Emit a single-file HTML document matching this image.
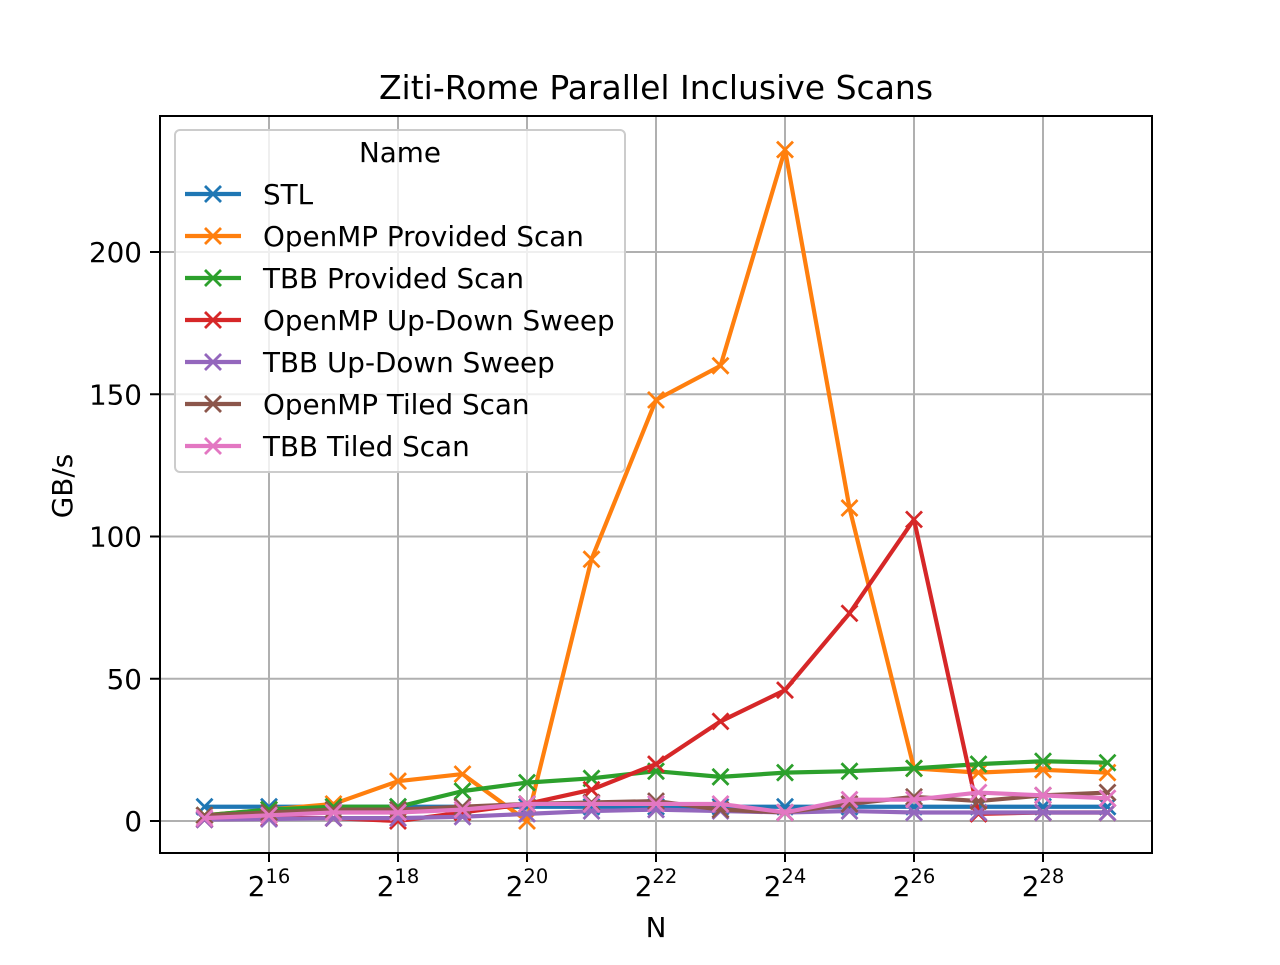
<!DOCTYPE html>
<html><head><meta charset="utf-8"><style>body{margin:0;background:#fff}svg{font-family:"DejaVu Sans","Liberation Sans",sans-serif}</style></head>
<body>
<svg id="chart" width="1280" height="960">
<rect width="1280" height="960" fill="#fff"/>
<g id="grid"></g><g id="series"></g>
<rect x="160" y="116" width="992" height="737" fill="none" stroke="#000" stroke-width="2"/>
<g id="ticks"></g>
<text x="656" y="99" font-size="33" text-anchor="middle">Ziti-Rome Parallel Inclusive Scans</text>
<text x="656" y="937" font-size="27.8" text-anchor="middle">N</text>
<text x="72" y="486" font-size="27.8" text-anchor="middle" transform="rotate(-90 72 486)">GB/s</text>
<g id="legend"></g>
</svg>
<script>
const exps=[15,16,17,18,19,20,21,22,23,24,25,26,27,28,29];
const names=["STL","OpenMP Provided Scan","TBB Provided Scan","OpenMP Up-Down Sweep","TBB Up-Down Sweep","OpenMP Tiled Scan","TBB Tiled Scan"];
const colors=["#1f77b4","#ff7f0e","#2ca02c","#d62728","#9467bd","#8c564b","#e377c2"];
const stl=[5,5,5,5,5,5,5,5,5,5,5,5,5,5,5];
const ompProvided=[2,4,6,14,16.5,0,92,148,160,236,110,18.5,17,18,17];
const tbbProvided=[2,4,5,5,10.5,13.5,15,17.5,15.5,17,17.5,18.5,20,21,20.5];
const ompUpDown=[0.5,1,1,0,3,6,11,20,35,46,73,106,2.5,3,3];
const tbbUpDown=[0.5,0.7,1,1,1.5,2.5,3.5,4,3.5,3,3.5,3,3,3,3];
const ompTiled=[2,3,4,4,5,6,6.5,7,4,3,6,8.5,7,9,10];
const tbbTiled=[1,2,3,3,4,6,6,6,6,3,7.5,7.5,10,9,8];
const seriesVals=[stl,ompProvided,tbbProvided,ompUpDown,tbbUpDown,ompTiled,tbbTiled];
const xTicks=[16,18,20,22,24,26,28];
const yTicks=[0,50,100,150,200];
const NS="http://www.w3.org/2000/svg";
const xs=e=>204.5+(e-15)*64.5;
const ys=v=>821-v*2.845;
function mk(t,a,p){const el=document.createElementNS(NS,t);for(const k in a)el.setAttribute(k,a[k]);p.appendChild(el);return el;}
const grid=document.getElementById('grid'),ticks=document.getElementById('ticks');
xTicks.forEach(e=>{const x=xs(e);
const g=mk('line',{x1:x,x2:x,y1:116,y2:853,stroke:'#b0b0b0','stroke-width':2},grid);


mk('line',{x1:x,x2:x,y1:853,y2:862,stroke:'#000','stroke-width':2},ticks);
const t=mk('text',{x:x,y:896,'font-size':27.8,'text-anchor':'middle'},ticks);


t.textContent='2';const s=mk('tspan',{dy:-13,'font-size':19.5},t);s.textContent=e;});
yTicks.forEach(v=>{const y=ys(v);
const g=mk('line',{x1:160,x2:1152,y1:y,y2:y,stroke:'#b0b0b0','stroke-width':2},grid);


mk('line',{x1:150,x2:160,y1:y,y2:y,stroke:'#000','stroke-width':2},ticks);
const t=mk('text',{x:142,y:y+10,'font-size':27.8,'text-anchor':'end'},ticks);


t.textContent=v;});
function cross(x,y,c,p){mk('path',{d:`M${x-8},${y-8}L${x+8},${y+8}M${x-8},${y+8}L${x+8},${y-8}`,stroke:c,'stroke-width':2.8},p);}
const sg=document.getElementById('series');
seriesVals.forEach((vals,i)=>{const g=mk('g',{},sg);


mk('polyline',{points:vals.map((v,j)=>xs(exps[j])+','+ys(v)).join(' '),fill:'none',stroke:colors[i],'stroke-width':4.2,'stroke-linejoin':'round'},g);
vals.forEach((v,j)=>cross(xs(exps[j]),ys(v),colors[i],g));});
const lg=document.getElementById('legend');
const box=mk('rect',{x:175,y:130,width:450,height:342,rx:5,fill:'#fff','fill-opacity':0.8,stroke:'#ccc','stroke-width':2},lg);


const lt=mk('text',{x:400,y:162,'font-size':27.8,'text-anchor':'middle'},lg);lt.textContent='Name';


names.forEach((n,i)=>{const y=194+i*42;const g=mk('g',{},lg);


mk('line',{x1:185,x2:241,y1:y,y2:y,stroke:colors[i],'stroke-width':4.2},g);cross(213,y,colors[i],g);
const t=mk('text',{x:263,y:y+10,'font-size':27.8},g);t.textContent=n;});
</script>
</body></html>
